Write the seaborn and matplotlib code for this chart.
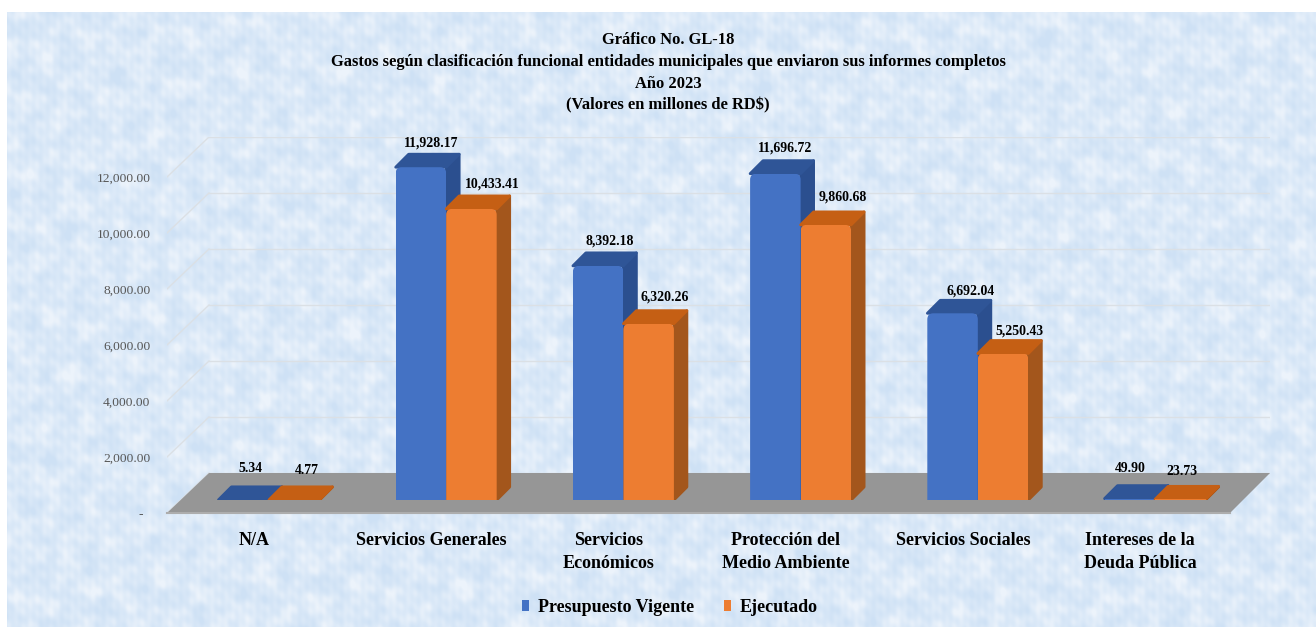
# Gastos segun clasificacion funcional - grafico GL-18 (barras estilo 3D)
import numpy as np
import pandas as pd
import seaborn as sns
import matplotlib.pyplot as plt
from matplotlib.colors import LinearSegmentedColormap
from matplotlib.patches import Polygon, FancyBboxPatch
from matplotlib.transforms import ScaledTranslation

# Datos
categorias = ['N/A', 'Servicios Generales', 'Servicios\nEconómicos',
              'Protección del\nMedio Ambiente', 'Servicios Sociales',
              'Intereses de la\nDeuda Pública']
presupuesto = [5.34, 11928.17, 8392.18, 11696.72, 6692.04, 49.90]
ejecutado = [4.77, 10433.41, 6320.26, 9860.68, 5250.43, 23.73]
series = ['Presupuesto Vigente', 'Ejecutado']
ticks = [0, 2000, 4000, 6000, 8000, 10000, 12000]
titulo = ('Gráfico No. GL-18\n'
          'Gastos según clasificación funcional entidades municipales que enviaron sus informes completos\n'
          'Año 2023\n'
          '(Valores en millones de RD$)')

# Colores: frente, tapa, lado
frente = ['#4472c4', '#ed7d31']
tapa = ['#2f5597', '#c55f14']
lado = ['#2b4f8f', '#a3561c']

# Desplazamiento de cada etiqueta respecto al centro/tope de su barra (pixeles)
offs_p = [(7, 31), (10, 24), (12, 25), (10, 26), (18, 22), (1, 30)]
offs_e = [(13, 29), (21, 25), (16, 27), (17, 28), (16, 22), (2, 28)]

df = pd.DataFrame({'categoria': categorias * 2,
                   'valor': presupuesto + ejecutado,
                   'serie': [series[0]] * 6 + [series[1]] * 6})

W, H = 1316, 627
plt.rcParams['font.family'] = ['Liberation Serif', 'DejaVu Serif']
fig = plt.figure(figsize=(W / 100, H / 100), dpi=100, facecolor='white')

def caja(x0, x1, ytop, ybot):
    return [x0 / W, 1 - ybot / H, (x1 - x0) / W, (ybot - ytop) / H]

# Fondo moteado: ondas en muchas direcciones para que no salgan franjas
bg = fig.add_axes(caja(7, W, 12, H))
yy, xx = np.mgrid[0:615, 0:1309]
mot = np.zeros(xx.shape)
for k in range(16):
    ang = k * 2.399
    largo = 7 + 3.1 * k
    mot += np.sin((xx * np.cos(ang) + yy * np.sin(ang)) * 2 * np.pi / largo + k * 1.3)
cmap_bg = LinearSegmentedColormap.from_list('bg', ['#cee1f5', '#dbe9f8', '#ecf3fb'])
bg.imshow(mot, cmap=cmap_bg, aspect='auto', vmin=-7, vmax=7)
bg.axis('off')

# Paredes y piso (x en pixeles, y en valores)
esc_pared = 0.028
prof = 40 / esc_pared
wall = fig.add_axes(caja(167, 1270, 137, 513))
wall.patch.set_alpha(0)
wall.set_xlim(167, 1270)
wall.set_ylim(0, 376 / esc_pared)
for t in ticks:
    wall.plot([209, 1270], [t + prof, t + prof], color='#dbe0e5', lw=1, zorder=1)
    wall.plot([167, 209], [t, t + prof], color='#dbe0e5', lw=1, zorder=1)
wall.add_patch(Polygon([(167, 0), (1230, 0), (1270, prof), (209, prof)],
                       closed=True, facecolor='#969696', edgecolor='none', zorder=2))
wall.plot([167, 1230], [0, 0], color='#adadad', lw=1.5, zorder=3, clip_on=False)
wall.set_xticks([])
wall.set_yticks(ticks)
wall.set_yticklabels(['-  '] + [f'{t:,.2f}' for t in ticks[1:]],
                     fontsize=9.7, color='#565656')
wall.tick_params(axis='y', length=0, pad=12)
sns.despine(ax=wall, left=True, bottom=True)

# Barras
esc_barra = 0.0279
ax = fig.add_axes(caja(269 - 88.65, 1155 + 88.65, 500 - 13000 * esc_barra, 500))
ax.patch.set_alpha(0)
sns.barplot(data=df, x='categoria', y='valor', hue='serie', palette=frente,
            saturation=1, width=0.57, gap=0, ax=ax)
ax.set_xlim(-0.5, 5.5)
ax.set_ylim(0, 13000)
ax.set_xlabel('')
ax.set_ylabel('')
ax.set_yticks([])
sns.despine(ax=ax, left=True, bottom=True)

# Cara lateral y tapa para dar el efecto 3D
dx = 13 / 177.3
dy = 13 / esc_barra
offsets = [offs_p, offs_e]
for s, cont in enumerate(ax.containers):
    z = 5 + s * 3
    for i, bar in enumerate(cont):
        x0, w, h = bar.get_x(), bar.get_width(), bar.get_height()
        x1 = x0 + w
        bar.set_linewidth(0)
        bar.set_zorder(z + 2)
        # esquinas redondeadas arriba en las barras altas; la base sigue recta
        if h > 1000:
            borde = FancyBboxPatch((x0, -1000), w, h + 1000, boxstyle='round,pad=0,rounding_size=%f' % (6 / 177.3),
                                   mutation_aspect=177.3 / esc_barra, transform=ax.transData)
            bar.set_clip_path(borde)
        ax.add_patch(Polygon([(x1, 0), (x1 + dx, dy), (x1 + dx, h + dy), (x1, h)], closed=True,
                             facecolor=lado[s], edgecolor=lado[s], lw=2, joinstyle='round', zorder=z))
        ax.add_patch(Polygon([(x0, h), (x0 + dx, h + dy), (x1 + dx, h + dy), (x1, h)], closed=True,
                             facecolor=tapa[s], edgecolor=tapa[s], lw=2, joinstyle='round', zorder=z + 1))
        ox, oy = offsets[s][i]
        ax.annotate(f'{h:,.2f}', xy=(x0 + w / 2, h), xytext=(ox * 0.72, oy * 0.72),
                    textcoords='offset points', ha='center', va='center',
                    fontsize=9.9, fontweight='bold', color='black', zorder=20)

# Etiquetas de categoria
ax.tick_params(axis='x', length=0, pad=23)
corrimiento = ScaledTranslation(-15 / 100, 0, fig.dpi_scale_trans)
for lab in ax.get_xticklabels():
    lab.set_fontsize(13)
    lab.set_fontweight('bold')
    lab.set_linespacing(1.48)
    lab.set_transform(lab.get_transform() + corrimiento)

# Leyenda
sns.move_legend(ax, 'center', bbox_to_anchor=(670 / W, 1 - 607 / H),
                bbox_transform=fig.transFigure, ncol=2, frameon=False, title=None,
                handlelength=0.42, handleheight=0.55, handletextpad=0.5, columnspacing=1.6,
                prop={'size': 13, 'weight': 'bold'})

fig.suptitle(titulo, x=668 / W, y=1 - 32 / H, va='top', ha='center',
             fontsize=11.9, fontweight='bold', linespacing=1.48)

fig.savefig('out.png', dpi=100)
